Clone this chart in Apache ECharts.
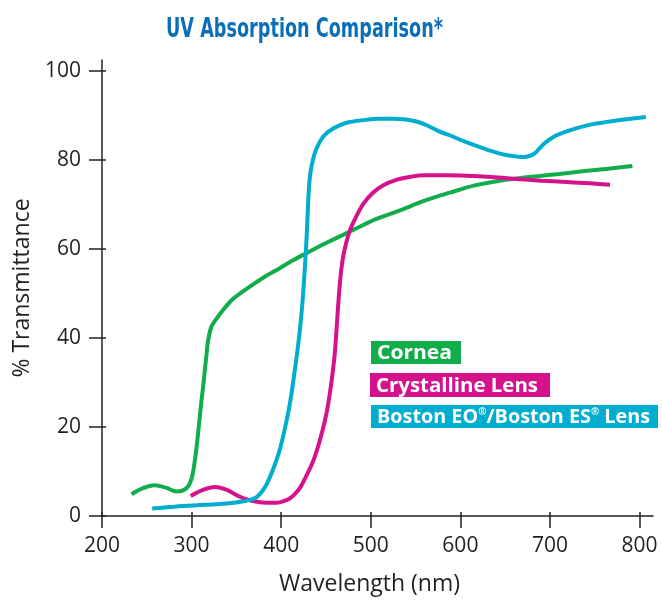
<!DOCTYPE html>
<html>
<head>
<meta charset="utf-8">
<script src="https://cdn.jsdelivr.net/npm/echarts@6/dist/echarts.min.js"></script>
<style>html,body{margin:0;padding:0;background:#fff;}#c{width:662px;height:601px;}</style>
</head>
<body>
<div id="c"></div>
<script>
var titleText = 'UV Absorption Comparison*';
var xTicks = [200, 300, 400, 500, 600, 700, 800];
var yTicks = [0, 20, 40, 60, 80, 100];
var seriesNames = ['Cornea', 'Crystalline Lens', 'Boston EO®/Boston ES® Lens'];
var seriesColors = ['#12ad4b', '#d5128c', '#00adcf'];

var cornea = [
  [233, 4.9], [245, 6.2], [259, 6.9], [272, 6.3], [283, 5.5], [294, 6.2], [300, 8.4],
  [304, 13], [307, 18.1], [310, 24], [313, 29.3], [316, 35], [318.5, 39.5], [322, 42.5],
  [326, 43.8], [336, 46.5], [346, 48.7], [365, 51.5], [383, 53.9], [398, 55.6], [412, 57.3],
  [428, 59.0], [450, 61.3], [476, 63.8], [505, 66.6], [532, 68.6], [560, 70.8], [588, 72.6],
  [615, 74.2], [644, 75.3], [680, 76.2], [710, 76.8], [736, 77.4], [765, 78.0], [792, 78.6]
];
var crystalline = [
  [299, 4.5], [312, 5.8], [326, 6.5], [340, 5.8], [352, 4.5], [362, 3.7], [373, 3.2],
  [384, 3.0], [395, 3.0], [402, 3.3], [410, 4.0], [415, 4.9], [420.6, 6.2], [428, 9.0],
  [435.4, 12.2], [441, 15.5], [446.6, 19.6], [450.5, 23], [454, 27.1], [457, 31.5],
  [459.6, 36], [461.5, 41], [463.3, 46.5], [465, 51], [467, 55.2], [469.5, 58.6],
  [472.7, 61.4], [477, 64.3], [483.8, 67.3], [492, 70.2], [502.4, 72.6], [514, 74.3],
  [528.5, 75.5], [545, 76.2], [560, 76.5], [585, 76.5], [606, 76.4], [635, 76.1],
  [662, 75.7], [690, 75.3], [718, 75.0], [745, 74.7], [767, 74.4]
];
var boston = [
  [256, 1.7], [275, 2.0], [294, 2.3], [313, 2.5], [331, 2.7], [347, 3.0], [361, 3.4],
  [368, 3.8], [373, 4.3], [379, 5.6], [384, 7.2], [391, 10.5], [398, 14.6], [404, 19.5],
  [409.5, 25], [414, 31], [419, 38.5], [422, 44], [424.5, 50], [426.5, 56], [428.5, 63],
  [430, 70], [431.5, 75], [434, 78.7], [439, 82.3], [447, 85.2], [458, 87.0], [473, 88.3],
  [492, 88.9], [510, 89.2], [525, 89.2], [537, 89.1], [551, 88.6], [563, 87.7], [577, 86.3],
  [588, 85.5], [606, 84.0], [625, 82.6], [642, 81.5], [656, 80.9], [670, 80.6], [678, 80.9],
  [684, 81.6], [689, 82.7], [694, 83.7], [702, 84.9], [711, 85.8], [728, 87.0], [748, 88.0],
  [770, 88.7], [790, 89.2], [807, 89.6]
];
var seriesData = [cornea, crystalline, boston];

var chart = echarts.init(document.getElementById('c'), null, {renderer: 'canvas'});
var axisColor = '#231f20';
var labelFont = 'Open Sans';

var measureCtx = document.createElement('canvas').getContext('2d');
function measure(font, txt) { measureCtx.font = font; return measureCtx.measureText(txt).width; }

var series = seriesData.map(function (d, i) {
  return {
    name: seriesNames[i],
    type: 'line',
    data: d,
    smooth: 0.3,
    showSymbol: false,
    symbol: 'none',
    lineStyle: {color: seriesColors[i], width: 4, cap: 'butt'},
    itemStyle: {color: seriesColors[i]},
    z: 3 + i
  };
});

// legend boxes (decoration)
var boxes = [
  {left: 371, top: 341, w: 90, h: 23, tw: 75},
  {left: 370, top: 373, w: 180, h: 24, tw: 162},
  {left: 371, top: 405, w: 287, h: 23, tw: 273}
];
var richText = [
  seriesNames[0],
  seriesNames[1],
  'Boston EO{s|®}/Boston ES{s|®} Lens'
];
var legFont = 'bold 20px "Open Sans"';
var supFont = 'bold 10px "Open Sans"';
var plainW = [
  measure(legFont, seriesNames[0]),
  measure(legFont, seriesNames[1]),
  measure(legFont, 'Boston EO/Boston ES Lens') + 2 * measure(supFont, '®')
];
var graphics = boxes.map(function (b, i) {
  return {
    type: 'group',
    left: b.left,
    top: b.top,
    children: [
      {type: 'rect', shape: {x: 0, y: 0, width: b.w, height: b.h}, style: {fill: seriesColors[i]}},
      {type: 'text', x: 6, y: b.h / 2 + 1, scaleX: b.tw / plainW[i],
        style: {
          text: richText[i], fill: '#fff', font: legFont,
          verticalAlign: 'middle',
          rich: {s: {fontSize: 10, fontWeight: 'bold', fill: '#fff', verticalAlign: 'top', padding: [0, 0, 9, 0], fontFamily: 'Open Sans'}}
        }}
    ]
  };
});

// title (condensed to match reference width)
var titleFont = 'bold 27px "DejaVu Sans Condensed"';
var titleW = measure(titleFont, titleText);
graphics.push({
  type: 'text', x: 304.5, y: 29.5, scaleX: 277 / titleW,
  style: {text: titleText, font: titleFont, fill: '#0a6fb8', align: 'center', verticalAlign: 'middle'}
});

chart.setOption({
  animation: false,
  backgroundColor: '#ffffff',
  grid: {left: 102, right: 9, top: 60, bottom: 83.3, containLabel: false},
  xAxis: [{
    type: 'value', min: 200, max: 815,
    name: 'Wavelength (nm)', nameLocation: 'middle', nameGap: 57,
    nameTextStyle: {fontSize: 23, color: axisColor, fontFamily: labelFont, padding: [0, 16, 0, 0]},
    axisLine: {show: true, onZero: false, lineStyle: {color: axisColor, width: 1.5}},
    axisTick: {show: true, length: 12, customValues: xTicks, lineStyle: {color: axisColor, width: 1.5}},
    axisLabel: {customValues: xTicks, fontSize: 21, color: axisColor, fontFamily: labelFont, margin: 20},
    splitLine: {show: false}
  }, {
    type: 'value', min: 200, max: 815, position: 'bottom',
    axisLine: {show: false, onZero: false},
    axisTick: {show: true, inside: true, length: 4, customValues: xTicks, lineStyle: {color: axisColor, width: 1.5}},
    axisLabel: {show: false}, splitLine: {show: false}
  }],
  yAxis: [{
    type: 'value', min: 0, max: 102.4,
    name: '% Transmittance', nameLocation: 'middle', nameGap: 66, nameRotate: 90,
    nameTextStyle: {fontSize: 23, color: axisColor, fontFamily: labelFont},
    axisLine: {show: true, onZero: false, lineStyle: {color: axisColor, width: 1.5}},
    axisTick: {show: true, length: 13, customValues: yTicks, lineStyle: {color: axisColor, width: 1.5}},
    axisLabel: {customValues: yTicks, fontSize: 21, color: axisColor, fontFamily: labelFont, margin: 21},
    splitLine: {show: false}
  }, {
    type: 'value', min: 0, max: 102.4, position: 'left',
    axisLine: {show: false, onZero: false},
    axisTick: {show: true, inside: true, length: 4, customValues: yTicks, lineStyle: {color: axisColor, width: 1.5}},
    axisLabel: {show: false}, splitLine: {show: false}
  }],
  graphic: graphics,
  series: series
});
</script>
</body>
</html>
